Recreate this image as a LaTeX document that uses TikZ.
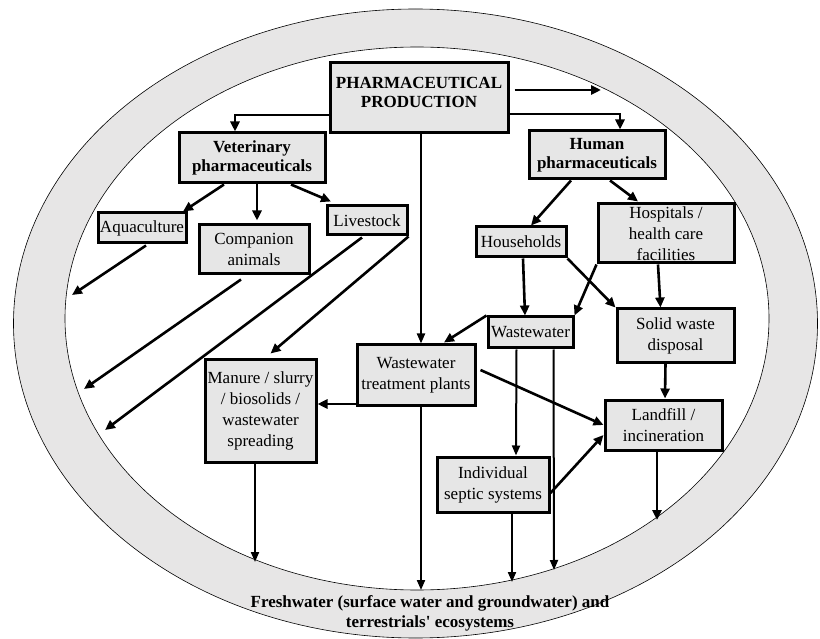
\documentclass[tikz,border=0pt]{standalone}
\usepackage{fontspec}
\setmainfont{Liberation Serif}
\usetikzlibrary{arrows.meta}
\definecolor{ringgray}{HTML}{E7E6E6}
\definecolor{boxgray}{HTML}{E6E6E6}

\begin{document}
\begin{tikzpicture}[x=1pt, y=-1pt,
    box/.style={draw, line width=3pt, fill=boxgray, inner sep=0pt, align=center,
                font=\fontsize{17}{21}\selectfont},
    boldbox/.style={box, font=\fontsize{17}{19}\selectfont\bfseries},
    arr/.style={line width=2.6pt, -{Triangle[length=10pt,width=9pt]}},
    thinarr/.style={line width=2pt, -{Triangle[length=10pt,width=8pt]}}]
  \useasboundingbox (0,0) rectangle (820,639);

  % outer ring and inner white area
  \filldraw[fill=ringgray, draw=black, line width=0.6pt]
    (415.5,323.5) ellipse [x radius=402pt, y radius=314.5pt];
  \filldraw[fill=white, draw=black, line width=0.6pt]
    (417,318.5) ellipse [x radius=352pt, y radius=271.5pt];

  % boxes
  \node[boldbox, minimum width=178pt, minimum height=70pt] (prod) at (419,98)
    {PHARMACEUTICAL\\PRODUCTION\\[-7pt]};
  \node[boldbox, minimum width=146pt, minimum height=50pt] (vet) at (252,158)
    {Veterinary\\pharmaceuticals};
  \node[boldbox, minimum width=136pt, minimum height=48pt] (hum) at (597,155)
    {Human\\pharmaceuticals};
  \node[box, minimum width=88pt, minimum height=30pt] (aqua) at (142,228) {Aquaculture};
  \node[box, minimum width=110pt, minimum height=49pt] (comp) at (254,249.5)
    {Companion\\animals};
  \node[box, minimum width=80pt, minimum height=29pt] (live) at (367,220.5) {Livestock};
  \node[box, minimum width=90pt, minimum height=30pt] (house) at (521,242) {Households};
  \node[box, minimum width=136pt, minimum height=59pt] (hosp) at (666,233.5)
    {Hospitals /\\health care\\facilities};
  \node[box, minimum width=117pt, minimum height=53pt] (solid) at (675.5,335.5)
    {Solid waste\\disposal};
  \node[box, minimum width=85pt, minimum height=31pt] (ww) at (530.5,332.5) {Wastewater};
  \node[box, minimum width=118pt, minimum height=60pt] (wwtp) at (416,375)
    {Wastewater\\treatment plants};
  \node[box, minimum width=111pt, minimum height=103pt] (manure) at (260.5,410.5)
    {Manure / slurry\\/ biosolids /\\wastewater\\spreading};
  \node[box, minimum width=117pt, minimum height=50pt] (landfill) at (663.5,425)
    {Landfill /\\incineration};
  \node[box, minimum width=112pt, minimum height=55pt] (septic) at (493,484.5)
    {Individual\\septic systems};
  \node[font=\fontsize{17}{20}\selectfont\bfseries, align=center] (fresh) at (430,613)
    {Freshwater (surface water and groundwater) and\\terrestrials\textquotesingle{} ecosystems};

  % free ends on the ring
  \coordinate (outR) at (601,90);
  \coordinate (outA) at (72,295);
  \coordinate (outB) at (84,389);
  \coordinate (outC) at (105,430);
  \coordinate (frM) at (255,562);
  \coordinate (frT) at (421,590);
  \coordinate (frS) at (512,582);
  \coordinate (frW) at (554,570);
  \coordinate (frL) at (657,520);

  % from production
  \draw[arr] ([xshift=5pt,yshift=8pt]prod.east) -- (outR);
  \draw[arr] ([yshift=-17pt]prod.west) -| ([xshift=-17pt]vet.north);
  \draw[arr] ([yshift=-16pt]prod.east) -| ([xshift=23pt]hum.north);
  \draw[thinarr] ([xshift=2pt]prod.south) -- ([xshift=5pt]wwtp.north);

  % veterinary side
  \draw[arr] ([xshift=-28pt]vet.south) -- ([xshift=41pt]aqua.north);
  \draw[arr] ([xshift=5pt]vet.south) -- ([xshift=3pt,yshift=3pt]comp.north);
  \draw[arr] ([xshift=39pt]vet.south) -- ([xshift=-36pt,yshift=3pt]live.north);
  \draw[arr] ([xshift=4pt,yshift=-1pt]aqua.south) -- (outA);
  \draw[arr] ([xshift=-13pt,yshift=-4pt]comp.south) -- (outB);
  \draw[arr] ([xshift=-5pt,yshift=-1pt]live.south) -- (outC);
  \draw[arr] (live.south east) -- ([xshift=10pt,yshift=4pt]manure.north);

  % human side
  \draw[arr] ([xshift=-26pt]hum.south) -- ([xshift=10pt]house.north);
  \draw[arr] ([xshift=13pt]hum.south) -- ([xshift=-28pt,yshift=1pt]hosp.north);
  \draw[arr] ([xshift=2pt]house.south) -- ([xshift=-5.5pt]ww.north);
  \draw[arr] (house.south east) -- (solid.north west);
  \draw[arr] (hosp.south west) -- (ww.north east);
  \draw[arr] ([xshift=-8pt]hosp.south) -- ([xshift=-15pt]solid.north);
  \draw[arr] (ww.north west) -- ([xshift=28pt,yshift=1pt]wwtp.north);
  \draw[thinarr] ([xshift=-14pt]ww.south) -- ([xshift=23pt]septic.north);
  \draw[thinarr] ([xshift=23pt]ww.south) -- (frW);
  \draw[arr] ([xshift=-10pt]solid.south) -- ([xshift=1.5pt]landfill.north);

  % treatment and disposal
  \draw[arr] ([xshift=4pt,yshift=5pt]wwtp.east) -- (landfill.west);
  \draw[arr] ([yshift=-29pt]wwtp.west) -- ([yshift=6.5pt]manure.east);
  \draw[thinarr] ([xshift=5pt]wwtp.south) -- (frT);
  \draw[thinarr] ([xshift=-5.5pt]manure.south) -- (frM);
  \draw[arr] ([yshift=-8.5pt]septic.east) -- ([yshift=-10pt]landfill.west);
  \draw[thinarr] ([xshift=19pt]septic.south) -- (frS);
  \draw[arr] ([xshift=-6.5pt]landfill.south) -- (frL);
\end{tikzpicture}
\end{document}
